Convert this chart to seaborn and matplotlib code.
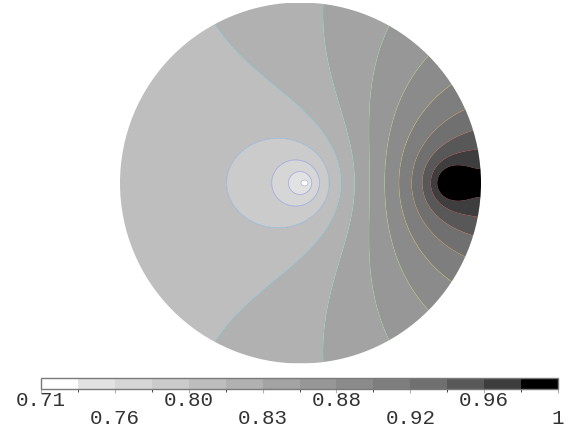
import numpy as np
import matplotlib
matplotlib.use("Agg")
import matplotlib.pyplot as plt
import seaborn as sns
from matplotlib.patches import Circle
from matplotlib.colors import ListedColormap, BoundaryNorm

sns.set_style("white")
plt.rcParams['font.family'] = ['Liberation Mono', 'DejaVu Sans Mono']

# ---- data -----------------------------------------------------------------
# colour scale
vmin, vmax, n_bands = 0.71, 1.0, 14
tick_labels = ["0.71", "0.76", "0.80", "0.83", "0.88", "0.92", "0.96", "1"]
band_colors = ['#ffffff', '#e2e2e2', '#d6d6d6', '#cbcbcb', '#bebebe', '#b1b1b1', '#a3a3a3',
               '#979797', '#8b8b8b', '#7e7e7e', '#707070', '#585858', '#3e3e3e', '#000000']

# points where the filled-contour boundaries cross (unit-disk coords u, w; level index)
obs_lvl = [0, 1, 1, 1, 2, 2, 2, 3, 3, 3, 4, 4, 4, 5, 5, 5, 5, 6, 6, 6, 7, 7, 7,
           8, 8, 9, 9, 10, 10, 11, 11, 12, 12, 13, 13, 13, 4.5, 4.5, 5.5]
obs_u = [0.03, 0.042, 0.018, 0.03, -0.08, 0.074, 0.0, -0.152, 0.133, -0.01, -0.378, 0.15, -0.13,
         0.194, -0.44, -0.167, 0.037, 0.278, 0.139, 0.21, 0.367, 0.49, 0.42,
         0.456, 0.704, 0.55, 0.824, 0.633, 0.898, 0.69, 0.944, 0.72, 0.98, 0.75, 0.997, 0.88,
         -1.0, -0.7, -0.15]
obs_w = [0, 0, 0, 0.008, 0, 0, 0.065, 0, 0, 0.13, 0, 0, 0.233,
         0, 0.883, 0.56, 0.32, 0, 0.985, 0.47, 0, 0.86, 0.47,
         0, 0.689, 0, 0.55, 0, 0.41, 0, 0.29, 0, 0.18, 0, 0.08, 0.1,
         0, 0.7, 0.99]

# ---- smooth field through the read points (least squares) ------------------
levels = np.linspace(vmin, vmax, n_bands + 1)
U = np.array(obs_u, float)
W = np.array(obs_w, float)
V = vmin + np.array(obs_lvl, float) * (vmax - vmin) / n_bands
DOT = (0.03, 0.012)


def basis(u, w, a, b, eps):
    return np.stack([
        np.ones_like(u),
        -np.log(np.hypot(u - a, w) + 1e-6),
        0.5 * np.log((u - b) ** 2 + w ** 2 + eps ** 2),
        -np.log(np.hypot(u - 1.0 / a, w) + 1e-6),
        u,
        -np.exp(-((u - DOT[0]) ** 2 + w ** 2) / (2 * DOT[1] ** 2)),
    ], -1)


best = None
for a in np.linspace(0.78, 0.98, 21):
    for b in np.linspace(-0.06, 0.08, 15):
        for eps in [0.02, 0.03, 0.05, 0.07]:
            M = basis(U, W, a, b, eps)
            try:
                coef = np.linalg.lstsq(M, V, rcond=None)[0]
            except np.linalg.LinAlgError:
                continue
            err = np.mean((M @ coef - V) ** 2)
            if best is None or err < best[0]:
                best = (err, a, b, eps, coef)
_, a_, b_, eps_, coef_ = best

g = np.linspace(-1.0, 1.0, 600)
X, Y = np.meshgrid(g, g)
Z = basis(X, Y, a_, b_, eps_) @ coef_
Z = np.clip(Z, vmin + 1e-6, vmax - 1e-6)

cmap = ListedColormap(band_colors)
norm = BoundaryNorm(levels, cmap.N)

# ---- figure ----------------------------------------------------------------
fig = plt.figure(figsize=(5.72, 4.35), dpi=100)
ax = fig.add_axes([120 / 572, 1 - 365 / 435, 361 / 572, 362 / 435])
cs = ax.contourf(X, Y, Z, levels=levels, cmap=cmap, norm=norm, antialiased=True)
cl = ax.contour(X, Y, Z, levels=levels[1:-1], cmap='jet', linewidths=0.5, alpha=0.28)
circ = Circle((0, 0), 1.0, transform=ax.transData, facecolor='none', edgecolor='none')
ax.add_patch(circ)
cs.set_clip_path(circ)
cl.set_clip_path(circ)
ax.set_xlim(-1, 1)
ax.set_ylim(1, -1)
ax.set_aspect('equal')
ax.axis('off')

# colour bar
bar_l, bar_r = 41, 558
cax = fig.add_axes([bar_l / 572, 1 - 390 / 435, (bar_r - bar_l) / 572, 11 / 435])
sm = matplotlib.cm.ScalarMappable(norm=norm, cmap=cmap)
cb = fig.colorbar(sm, cax=cax, orientation='horizontal', ticks=levels[::2])
cb.outline.set_edgecolor('#7a7a7a')
cb.outline.set_linewidth(1.0)
cax.tick_params(axis='x', length=3, width=0.8, color='#b0b0b0', labelbottom=False)
cax.set_xticklabels([])

for i, lab in enumerate(tick_labels):
    xpx = bar_l + i * 2 * (bar_r - bar_l) / n_bands
    ypx = 401 if i % 2 == 0 else 419
    fig.text(xpx / 572, 1 - ypx / 435, lab, ha='center', va='center',
             fontsize=15, color='#333333')

fig.savefig("out.png")
